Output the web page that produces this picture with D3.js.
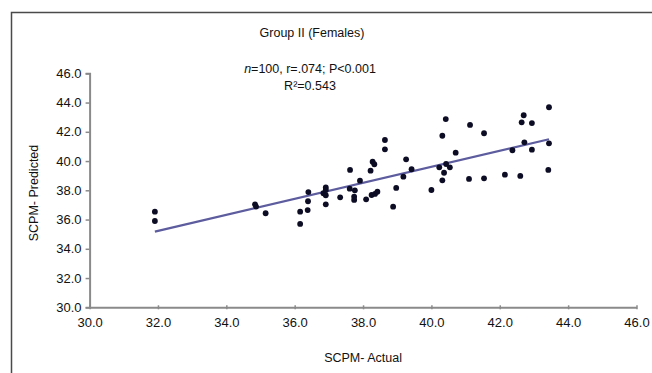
<!DOCTYPE html>
<html>
<head>
<meta charset="utf-8">
<script src="https://cdn.jsdelivr.net/npm/d3@7"></script>
<style>
  body { margin: 0; background: #fff; }
  svg { display: block; font-family: "Liberation Sans", Arial, sans-serif; }
</style>
</head>
<body>
<div id="chart"></div>
<script>
// SCPM actual vs predicted
const actual = [31.91, 31.91, 34.84, 34.87, 35.15, 36.16, 36.16, 36.38, 36.39, 36.40,
  36.84, 36.91, 36.91, 36.91, 36.91, 37.33, 37.62, 37.61, 37.76, 37.74,
  37.74, 37.91, 38.09, 38.22, 38.25, 38.35, 38.42, 38.28, 38.33, 38.64,
  38.64, 38.88, 38.97, 39.18, 39.26, 39.42, 40.00, 40.23, 40.32, 40.32,
  40.37, 40.42, 40.43, 40.54, 40.71, 41.10, 41.13, 41.54, 41.54, 42.15,
  42.37, 42.60, 42.64, 42.70, 42.72, 42.94, 42.94, 43.42, 43.44, 43.44];
const predicted = [36.54, 35.90, 37.04, 36.89, 36.43, 36.54, 35.70, 36.65, 37.25, 37.88,
  37.80, 38.20, 38.02, 37.66, 37.04, 37.52, 39.39, 38.11, 38.00, 37.56,
  37.34, 38.66, 37.38, 39.34, 37.68, 37.75, 37.90, 39.96, 39.78, 41.44,
  40.80, 36.88, 38.16, 38.93, 40.12, 39.44, 38.02, 39.57, 41.73, 38.68,
  39.20, 42.87, 39.80, 39.57, 40.57, 38.78, 42.47, 41.90, 38.82, 39.07,
  40.74, 38.98, 42.65, 43.13, 41.28, 42.60, 40.78, 39.39, 43.68, 41.21];

// fitted line end points
const fitX = [31.91, 43.44];
const fitY = [35.17, 41.49];

const ticks = [30, 32, 34, 36, 38, 40, 42, 44, 46];

const W = 652, H = 373;
const margin = { left: 89.6, right: W - 636.5, top: 73.3, bottom: H - 307.3 };

const svg = d3.select('#chart').append('svg')
  .attr('width', W)
  .attr('height', H);

// outer frame (cropped: only left and top edges visible)
svg.append('path')
  .attr('d', 'M11.5,' + H + 'V12.5H' + W)
  .attr('fill', 'none')
  .attr('stroke', '#4a4a4a')
  .attr('stroke-width', 1.5);

const x = d3.scaleLinear().domain([30, 46]).range([margin.left, W - margin.right]);
const y = d3.scaleLinear().domain([30, 46]).range([H - margin.bottom, margin.top]);

const fmt = d3.format('.1f');

// y axis
svg.append('g')
  .attr('transform', 'translate(' + margin.left + ',0)')
  .call(d3.axisLeft(y).tickValues(ticks).tickFormat(fmt).tickSize(4).tickPadding(4))
  .call(g => g.select('.domain').attr('stroke', '#8a8a8a').attr('stroke-width', 2))
  .call(g => g.selectAll('.tick line').attr('stroke', '#8a8a8a').attr('stroke-width', 1.5))
  .call(g => g.selectAll('.tick text')
    .attr('font-size', 13)
    .attr('fill', '#111')
    .attr('font-family', '"Liberation Sans", Arial, sans-serif'));

// x axis
svg.append('g')
  .attr('transform', 'translate(0,' + y(30) + ')')
  .call(d3.axisBottom(x).tickValues(ticks).tickFormat(fmt).tickSizeOuter(0).tickSizeInner(2).tickPadding(8))
  .call(g => g.select('.domain').attr('stroke', '#8a8a8a').attr('stroke-width', 2))
  .call(g => g.selectAll('.tick line').attr('y1', -2).attr('stroke', '#8a8a8a').attr('stroke-width', 1.5))
  .call(g => g.selectAll('.tick text')
    .attr('font-size', 13)
    .attr('fill', '#111')
    .attr('font-family', '"Liberation Sans", Arial, sans-serif'));

// regression line
svg.append('line')
  .attr('x1', x(fitX[0])).attr('y1', y(fitY[0]))
  .attr('x2', x(fitX[1])).attr('y2', y(fitY[1]))
  .attr('stroke', '#5c5c9e')
  .attr('stroke-width', 2.2);

// points
svg.selectAll('.pt')
  .data(actual.map((a, i) => [a, predicted[i]]))
  .enter()
  .append('circle')
  .attr('class', 'pt')
  .attr('cx', d => x(d[0]))
  .attr('cy', d => y(d[1]))
  .attr('r', 2.9)
  .attr('fill', '#0c0c24');

// titles
svg.append('text')
  .attr('x', 312).attr('y', 37)
  .attr('text-anchor', 'middle')
  .attr('font-size', 12.5)
  .attr('fill', '#111')
  .text('Group II (Females)');

const ann = svg.append('text')
  .attr('x', 310).attr('y', 73)
  .attr('text-anchor', 'middle')
  .attr('font-size', 12.5)
  .attr('fill', '#111');
ann.append('tspan').attr('font-style', 'italic').text('n');
ann.append('tspan').text('=100, r=.074; P<0.001');

svg.append('text')
  .attr('x', 310).attr('y', 90)
  .attr('text-anchor', 'middle')
  .attr('font-size', 12.5)
  .attr('fill', '#111')
  .text('R\u00b2=0.543');

svg.append('text')
  .attr('x', (x(30) + x(46)) / 2).attr('y', 362)
  .attr('text-anchor', 'middle')
  .attr('font-size', 12.5)
  .attr('fill', '#111')
  .text('SCPM- Actual');

svg.append('text')
  .attr('transform', 'translate(38,193) rotate(-90)')
  .attr('text-anchor', 'middle')
  .attr('font-size', 12.5)
  .attr('fill', '#111')
  .text('SCPM- Predicted');
</script>
</body>
</html>
